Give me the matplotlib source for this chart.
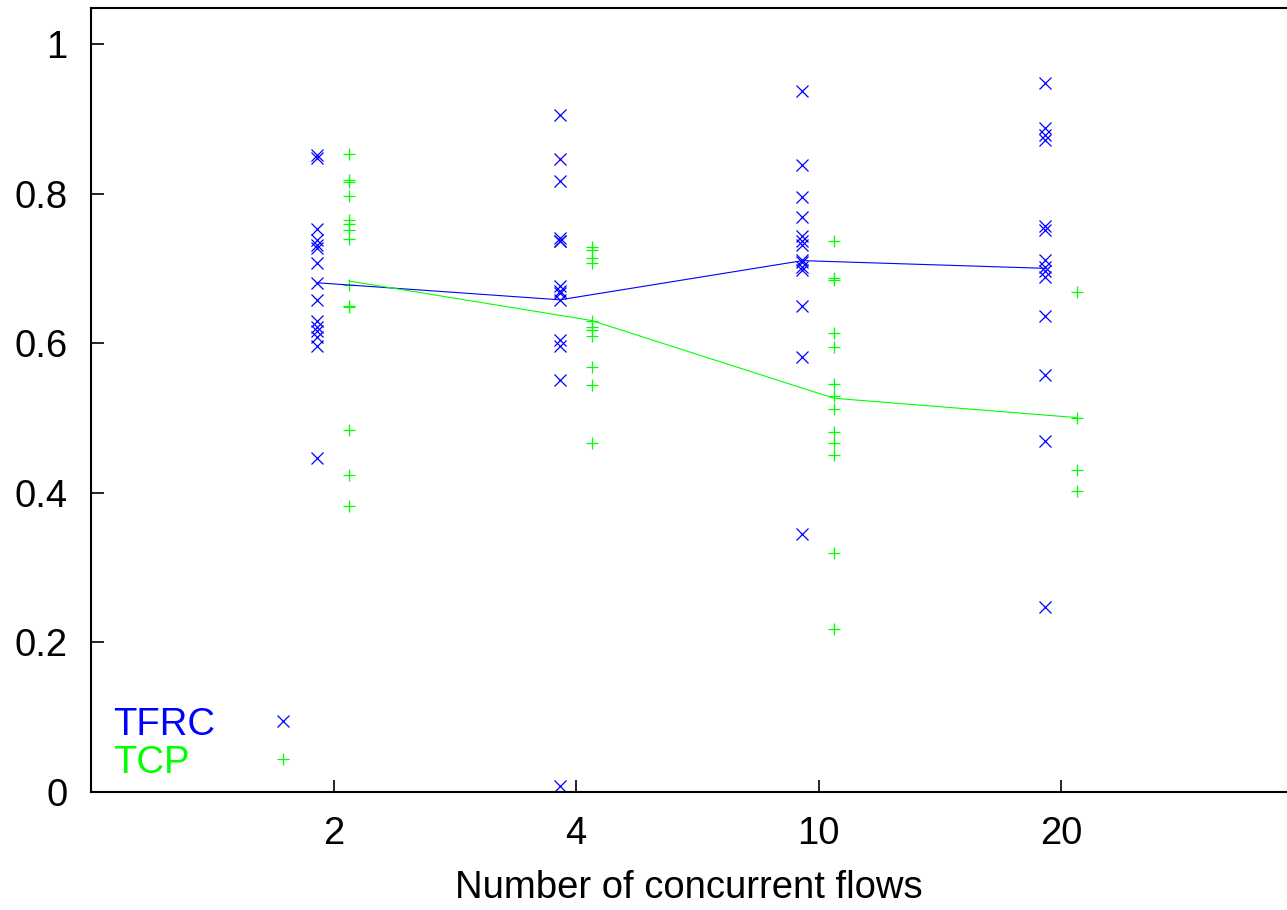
import numpy as np
import matplotlib
matplotlib.use('Agg')
import matplotlib.pyplot as plt
from matplotlib.ticker import FuncFormatter

plt.rcParams['font.family'] = ['Liberation Sans', 'DejaVu Sans']

# categories on the x axis
flows = ['2', '4', '10', '20']

# per-run throughput values
tfrc = [
    [0.852, 0.847, 0.753, 0.738, 0.731, 0.727, 0.707, 0.680, 0.658, 0.629,
     0.622, 0.616, 0.608, 0.596, 0.446],
    [0.905, 0.846, 0.817, 0.740, 0.737, 0.736, 0.676, 0.670, 0.667, 0.658,
     0.604, 0.596, 0.551, 0.008],
    [0.937, 0.838, 0.795, 0.769, 0.743, 0.736, 0.731, 0.711, 0.708, 0.702,
     0.698, 0.649, 0.582, 0.345],
    [0.948, 0.887, 0.878, 0.872, 0.756, 0.751, 0.711, 0.702, 0.696, 0.689,
     0.636, 0.558, 0.469, 0.247],
]
tcp = [
    [0.853, 0.818, 0.816, 0.797, 0.764, 0.759, 0.751, 0.739, 0.678, 0.650,
     0.648, 0.484, 0.424, 0.382],
    [0.729, 0.724, 0.714, 0.707, 0.630, 0.622, 0.618, 0.610, 0.568, 0.544,
     0.467],
    [0.737, 0.687, 0.685, 0.613, 0.595, 0.546, 0.530, 0.512, 0.481, 0.467,
     0.451, 0.320, 0.218],
    [0.668, 0.500, 0.431, 0.403],
]

BLUE = '#0000ff'
GREEN = '#00ff00'
FS = 27.5

fig = plt.figure(figsize=(12.87, 9.10), dpi=100)
ax = fig.add_axes([91 / 1287, 1 - 792 / 910, 1 - 91 / 1287, (792 - 8) / 910])

pos = np.arange(1, len(flows) + 1)
off_tfrc, off_tcp = -0.066, 0.064

for i, p in enumerate(pos):
    ax.plot([p + off_tfrc] * len(tfrc[i]), tfrc[i], ls='none', marker='x',
            ms=8.5, mew=0.9, color=BLUE)
    ax.plot([p + off_tcp] * len(tcp[i]), tcp[i], ls='none', marker='+',
            ms=8.5, mew=0.9, color=GREEN)

# mean lines
ax.plot(pos + off_tfrc, [np.mean(v) for v in tfrc], color=BLUE, lw=0.8)
ax.plot(pos + off_tcp, [np.mean(v) for v in tcp], color=GREEN, lw=0.8)

ax.set_xlim(0, (1287 - 91) / 242.5)
ax.set_ylim(0, 1.048)
ax.set_xticks(pos)
ax.set_xticklabels(flows)
ax.set_yticks(np.arange(0, 1.01, 0.2))
ax.yaxis.set_major_formatter(FuncFormatter(lambda v, _: f'{v:g}'))

ax.tick_params(direction='in', length=9, width=1.2, labelsize=FS, pad=17,
               top=False, right=False)
for s in ['left', 'bottom', 'top']:
    ax.spines[s].set_linewidth(1.5)
ax.spines['right'].set_visible(False)

ax.set_xlabel('Number of concurrent flows', fontsize=FS, labelpad=13)

# gnuplot style key: left aligned text, sample marker to the right
key = [('TFRC', 'x', BLUE, 0.0727), ('TCP', '+', GREEN, 0.0242)]
for name, m, c, yb in key:
    ax.text(0.0184, yb, name, color=c, fontsize=FS, ha='left', va='baseline',
            transform=ax.transAxes)
    ax.plot([0.1605], [yb + 0.0175], ls='none', marker=m, ms=8.5, mew=0.9,
            color=c, transform=ax.transAxes, clip_on=False)

plt.savefig('out.png', dpi=100)
